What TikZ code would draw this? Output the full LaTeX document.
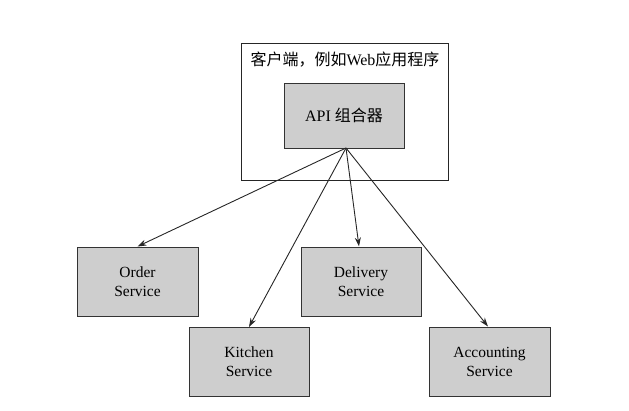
\documentclass[tikz,border=0pt]{standalone}
\usepackage{fontspec}
\setmainfont{Liberation Serif}
\newfontfamily\cjkfont{Noto Sans CJK SC}
\usetikzlibrary{arrows.meta}
\begin{document}
\begin{tikzpicture}[x=1pt,y=-1pt,
  svcbox/.style={draw=black!80, line width=1pt, fill={rgb,255:red,206;green,206;blue,206},
    minimum width=121pt, minimum height=69pt, align=center, inner sep=0pt,
    font=\fontsize{15.5}{19}\selectfont},
  link/.style={draw=black!85, line width=0.9pt, -{Stealth[length=9pt,width=6pt]}}]
  \useasboundingbox (0,0) rectangle (629,410);

  % client container with the composer inside
  \node[draw=black!85, line width=1pt, minimum width=207pt, minimum height=137pt, inner sep=0pt]
    (client) at (344.5,111.5) {};
  \node[font=\fontsize{16}{19}\selectfont] (clientlabel) at (345,60)
    {{\cjkfont 客户端，例如}Web{\cjkfont 应用程序}};
  \node[svcbox, minimum width=120pt, minimum height=65pt, font=\fontsize{16}{19}\selectfont]
    (api) at (344,115.5) {API {\cjkfont 组合器}};

  % backend services
  \node[svcbox] (order) at (137.5,281.5) {Order\\Service};
  \node[svcbox, minimum width=120pt] (delivery) at (361,281.5) {Delivery\\Service};
  \node[svcbox, minimum width=120pt] (kitchen) at (249,362) {Kitchen\\Service};
  \node[svcbox] (accounting) at (489.5,361.5) {Accounting\\Service};

  % fan-out of calls from the composer
  \coordinate (hub) at (346,148);
  \draw[link] (hub) -- (order.north);
  \draw[link] (hub) -- (kitchen.north);
  \draw[link] (hub) -- ([xshift=-2pt]delivery.north);
  \draw[link] (hub) -- ([xshift=-1.5pt]accounting.north);
\end{tikzpicture}
\end{document}
